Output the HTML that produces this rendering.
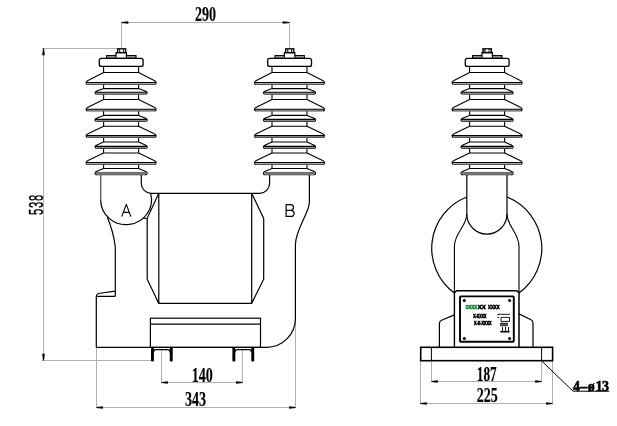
<!DOCTYPE html>
<html><head><meta charset="utf-8"><style>
html,body{margin:0;padding:0;background:#fff;width:617px;height:426px;overflow:hidden}
svg{display:block}
.t{font-family:"Liberation Serif",serif;font-weight:bold;fill:#000}
.s{font-family:"Liberation Sans",sans-serif;fill:#000}
</style></head><body>
<svg width="617" height="426" viewBox="0 0 617 426">


<!-- ============ DIMENSIONS (gray) ============ -->
<g stroke="#b0b0b0" stroke-width="1" fill="none">
  <!-- 290 -->
  <path d="M121.5 22.5H289.5M121.5 22V48.3M289.5 22V48.3"/>
  <!-- 538 -->
  <path d="M43.5 48.5V360.5M42 48.5H117M42 360.5H151"/>
  <!-- 140 -->
  <path d="M161.5 350V383M242.5 350V383M161.5 382.5H242.5"/>
  <!-- 343 -->
  <path d="M96.5 347.4V408M295.5 320V408M96.5 407.5H295.5"/>
  <!-- 187 -->
  <path d="M431.5 361V382M541.5 361V382M431.5 381.5H541.5"/>
  <!-- 225 -->
  <path d="M420.5 361V404.5M552.5 361V404.5M420.5 403.5H552.5"/>
</g>
<!-- arrows -->
<g fill="#000">
  <path d="M121.5 22.00L128.30 21.15V23.85L121.5 23.00Z"/>
  <path d="M289.5 22.00L282.70 21.15V23.85L289.5 23.00Z"/>
  <path d="M43.00 48.5L42.15 55.30H44.85L44.00 48.5Z"/>
  <path d="M43.00 360.5L42.15 353.70H44.85L44.00 360.5Z"/>
  <path d="M161.5 382.00L167.90 381.15V383.85L161.5 383.00Z"/>
  <path d="M242.5 382.00L236.10 381.15V383.85L242.5 383.00Z"/>
  <path d="M96.5 407.00L102.90 406.15V408.85L96.5 408.00Z"/>
  <path d="M295.5 407.00L289.10 406.15V408.85L295.5 408.00Z"/>
  <path d="M431.5 381.00L437.90 380.15V382.85L431.5 382.00Z"/>
  <path d="M541.5 381.00L535.10 380.15V382.85L541.5 382.00Z"/>
  <path d="M420.5 403.00L426.90 402.15V404.85L420.5 404.00Z"/>
  <path d="M552.5 403.00L546.10 402.15V404.85L552.5 404.00Z"/>
</g>

<!-- ============ INSULATORS ============ -->
<g transform="translate(121.1,0)">
  <path d="M-17.5 66.4V174.5M17.5 66.4V174.5" stroke="#000" stroke-width="1.1" fill="none"/>
  <rect x="-14.5" y="55.6" width="29.4" height="2.6" fill="#b0b0b0" stroke="#000" stroke-width="1.1"/>
  <path d="M-5.1 57.6V52.6H5.3V57.6" fill="#fff" stroke="#000" stroke-width="1.2"/>
  <rect x="-21.8" y="58.3" width="43.8" height="8.1" rx="2" fill="#fff" stroke="#000" stroke-width="1.3"/>
  <path d="M-17.5 72.5L-33.6 80.8C-35.7 81.7 -35.3 84.5 -33.4 84.5H33.4C35.3 84.5 35.7 81.7 33.6 80.8L17.5 72.5Z" fill="#fff"/>
  <rect x="-33.6" y="82.5" width="67.2" height="2" fill="#a8a8a8"/>
  <path d="M-17.5 72.5L-33.6 80.8C-35.7 81.7 -35.3 84.5 -33.4 84.5M17.5 72.5L33.6 80.8C35.7 81.7 35.3 84.5 33.4 84.5M-17.5 72.5H17.5M-34.5 82.5H34.5" stroke="#000" stroke-width="1.1" fill="none"/>
  <path d="M-33.4 84.5H33.4" stroke="#555" stroke-width="1.1" fill="none"/>
  <path d="M-17.5 88.6L-24.7 91.2C-26.8 92.1 -26.4 94.2 -24.5 94.2H24.5C26.4 94.2 26.8 92.1 24.7 91.2L17.5 88.6Z" fill="#fff"/>
  <rect x="-24.7" y="92.3" width="49.4" height="1.9" fill="#a0a0a0"/>
  <path d="M-17.5 88.6L-24.7 91.2C-26.8 92.1 -26.4 94.2 -24.5 94.2M17.5 88.6L24.7 91.2C26.8 92.1 26.4 94.2 24.5 94.2M-17.5 88.6H17.5M-25.6 92.3H25.6" stroke="#000" stroke-width="1.1" fill="none"/>
  <path d="M-24.5 94.2H24.5" stroke="#444" stroke-width="1.1" fill="none"/>
  <path d="M-17.5 99.5L-33.6 107.6C-35.7 108.5 -35.3 111 -33.4 111H33.4C35.3 111 35.7 108.5 33.6 107.6L17.5 99.5Z" fill="#fff"/>
  <rect x="-33.6" y="109.3" width="67.2" height="1.7" fill="#a8a8a8"/>
  <path d="M-17.5 99.5L-33.6 107.6C-35.7 108.5 -35.3 111 -33.4 111M17.5 99.5L33.6 107.6C35.7 108.5 35.3 111 33.4 111M-17.5 99.5H17.5M-34.5 109.3H34.5" stroke="#000" stroke-width="1.1" fill="none"/>
  <path d="M-33.4 111H33.4" stroke="#555" stroke-width="1.1" fill="none"/>
  <path d="M-17.5 115.4L-24.7 118.3C-26.8 119.2 -26.4 121.4 -24.5 121.4H24.5C26.4 121.4 26.8 119.2 24.7 118.3L17.5 115.4Z" fill="#fff"/>
  <rect x="-24.7" y="119.4" width="49.4" height="2" fill="#a0a0a0"/>
  <path d="M-17.5 115.4L-24.7 118.3C-26.8 119.2 -26.4 121.4 -24.5 121.4M17.5 115.4L24.7 118.3C26.8 119.2 26.4 121.4 24.5 121.4M-17.5 115.4H17.5M-25.6 119.4H25.6" stroke="#000" stroke-width="1.1" fill="none"/>
  <path d="M-24.5 121.4H24.5" stroke="#444" stroke-width="1.1" fill="none"/>
  <path d="M-17.5 126.3L-33.6 133.9C-35.7 134.8 -35.3 137.5 -33.4 137.5H33.4C35.3 137.5 35.7 134.8 33.6 133.9L17.5 126.3Z" fill="#fff"/>
  <rect x="-33.6" y="135.6" width="67.2" height="1.9" fill="#a8a8a8"/>
  <path d="M-17.5 126.3L-33.6 133.9C-35.7 134.8 -35.3 137.5 -33.4 137.5M17.5 126.3L33.6 133.9C35.7 134.8 35.3 137.5 33.4 137.5M-17.5 126.3H17.5M-34.5 135.6H34.5" stroke="#000" stroke-width="1.1" fill="none"/>
  <path d="M-33.4 137.5H33.4" stroke="#555" stroke-width="1.1" fill="none"/>
  <path d="M-17.5 142L-24.7 145.3C-26.8 146.2 -26.4 148.4 -24.5 148.4H24.5C26.4 148.4 26.8 146.2 24.7 145.3L17.5 142Z" fill="#fff"/>
  <rect x="-24.7" y="146.4" width="49.4" height="2" fill="#a0a0a0"/>
  <path d="M-17.5 142L-24.7 145.3C-26.8 146.2 -26.4 148.4 -24.5 148.4M17.5 142L24.7 145.3C26.8 146.2 26.4 148.4 24.5 148.4M-17.5 142H17.5M-25.6 146.4H25.6" stroke="#000" stroke-width="1.1" fill="none"/>
  <path d="M-24.5 148.4H24.5" stroke="#444" stroke-width="1.1" fill="none"/>
  <path d="M-17.5 153L-33.6 160.8C-35.7 161.7 -35.3 164.5 -33.4 164.5H33.4C35.3 164.5 35.7 161.7 33.6 160.8L17.5 153Z" fill="#fff"/>
  <rect x="-33.6" y="162.5" width="67.2" height="2" fill="#a8a8a8"/>
  <path d="M-17.5 153L-33.6 160.8C-35.7 161.7 -35.3 164.5 -33.4 164.5M17.5 153L33.6 160.8C35.7 161.7 35.3 164.5 33.4 164.5M-17.5 153H17.5M-34.5 162.5H34.5" stroke="#000" stroke-width="1.1" fill="none"/>
  <path d="M-33.4 164.5H33.4" stroke="#555" stroke-width="1.1" fill="none"/>
  <path d="M-17.5 168.5L-24.7 171.4C-26.8 172.3 -26.4 174.8 -24.5 174.8H24.5C26.4 174.8 26.8 172.3 24.7 171.4L17.5 168.5Z" fill="#fff"/>
  <rect x="-25" y="171.9" width="50" height="3.5" fill="#727272"/>
  <path d="M-17.5 168.5L-24.7 171.4C-26.8 172.3 -26.4 174.8 -24.5 174.8M17.5 168.5L24.7 171.4C26.8 172.3 26.4 174.8 24.5 174.8M-17.5 168.5H17.5" stroke="#000" stroke-width="1.1" fill="none"/>
</g>
<g transform="translate(289.5,0)">
  <path d="M-17.5 66.4V174.5M17.5 66.4V174.5" stroke="#000" stroke-width="1.1" fill="none"/>
  <rect x="-14.5" y="55.6" width="29.4" height="2.6" fill="#b0b0b0" stroke="#000" stroke-width="1.1"/>
  <path d="M-5.1 57.6V52.6H5.3V57.6" fill="#fff" stroke="#000" stroke-width="1.2"/>
  <rect x="-21.8" y="58.3" width="43.8" height="8.1" rx="2" fill="#fff" stroke="#000" stroke-width="1.3"/>
  <path d="M-17.5 72.5L-33.6 80.8C-35.7 81.7 -35.3 84.5 -33.4 84.5H33.4C35.3 84.5 35.7 81.7 33.6 80.8L17.5 72.5Z" fill="#fff"/>
  <rect x="-33.6" y="82.5" width="67.2" height="2" fill="#a8a8a8"/>
  <path d="M-17.5 72.5L-33.6 80.8C-35.7 81.7 -35.3 84.5 -33.4 84.5M17.5 72.5L33.6 80.8C35.7 81.7 35.3 84.5 33.4 84.5M-17.5 72.5H17.5M-34.5 82.5H34.5" stroke="#000" stroke-width="1.1" fill="none"/>
  <path d="M-33.4 84.5H33.4" stroke="#555" stroke-width="1.1" fill="none"/>
  <path d="M-17.5 88.6L-24.7 91.2C-26.8 92.1 -26.4 94.2 -24.5 94.2H24.5C26.4 94.2 26.8 92.1 24.7 91.2L17.5 88.6Z" fill="#fff"/>
  <rect x="-24.7" y="92.3" width="49.4" height="1.9" fill="#a0a0a0"/>
  <path d="M-17.5 88.6L-24.7 91.2C-26.8 92.1 -26.4 94.2 -24.5 94.2M17.5 88.6L24.7 91.2C26.8 92.1 26.4 94.2 24.5 94.2M-17.5 88.6H17.5M-25.6 92.3H25.6" stroke="#000" stroke-width="1.1" fill="none"/>
  <path d="M-24.5 94.2H24.5" stroke="#444" stroke-width="1.1" fill="none"/>
  <path d="M-17.5 99.5L-33.6 107.6C-35.7 108.5 -35.3 111 -33.4 111H33.4C35.3 111 35.7 108.5 33.6 107.6L17.5 99.5Z" fill="#fff"/>
  <rect x="-33.6" y="109.3" width="67.2" height="1.7" fill="#a8a8a8"/>
  <path d="M-17.5 99.5L-33.6 107.6C-35.7 108.5 -35.3 111 -33.4 111M17.5 99.5L33.6 107.6C35.7 108.5 35.3 111 33.4 111M-17.5 99.5H17.5M-34.5 109.3H34.5" stroke="#000" stroke-width="1.1" fill="none"/>
  <path d="M-33.4 111H33.4" stroke="#555" stroke-width="1.1" fill="none"/>
  <path d="M-17.5 115.4L-24.7 118.3C-26.8 119.2 -26.4 121.4 -24.5 121.4H24.5C26.4 121.4 26.8 119.2 24.7 118.3L17.5 115.4Z" fill="#fff"/>
  <rect x="-24.7" y="119.4" width="49.4" height="2" fill="#a0a0a0"/>
  <path d="M-17.5 115.4L-24.7 118.3C-26.8 119.2 -26.4 121.4 -24.5 121.4M17.5 115.4L24.7 118.3C26.8 119.2 26.4 121.4 24.5 121.4M-17.5 115.4H17.5M-25.6 119.4H25.6" stroke="#000" stroke-width="1.1" fill="none"/>
  <path d="M-24.5 121.4H24.5" stroke="#444" stroke-width="1.1" fill="none"/>
  <path d="M-17.5 126.3L-33.6 133.9C-35.7 134.8 -35.3 137.5 -33.4 137.5H33.4C35.3 137.5 35.7 134.8 33.6 133.9L17.5 126.3Z" fill="#fff"/>
  <rect x="-33.6" y="135.6" width="67.2" height="1.9" fill="#a8a8a8"/>
  <path d="M-17.5 126.3L-33.6 133.9C-35.7 134.8 -35.3 137.5 -33.4 137.5M17.5 126.3L33.6 133.9C35.7 134.8 35.3 137.5 33.4 137.5M-17.5 126.3H17.5M-34.5 135.6H34.5" stroke="#000" stroke-width="1.1" fill="none"/>
  <path d="M-33.4 137.5H33.4" stroke="#555" stroke-width="1.1" fill="none"/>
  <path d="M-17.5 142L-24.7 145.3C-26.8 146.2 -26.4 148.4 -24.5 148.4H24.5C26.4 148.4 26.8 146.2 24.7 145.3L17.5 142Z" fill="#fff"/>
  <rect x="-24.7" y="146.4" width="49.4" height="2" fill="#a0a0a0"/>
  <path d="M-17.5 142L-24.7 145.3C-26.8 146.2 -26.4 148.4 -24.5 148.4M17.5 142L24.7 145.3C26.8 146.2 26.4 148.4 24.5 148.4M-17.5 142H17.5M-25.6 146.4H25.6" stroke="#000" stroke-width="1.1" fill="none"/>
  <path d="M-24.5 148.4H24.5" stroke="#444" stroke-width="1.1" fill="none"/>
  <path d="M-17.5 153L-33.6 160.8C-35.7 161.7 -35.3 164.5 -33.4 164.5H33.4C35.3 164.5 35.7 161.7 33.6 160.8L17.5 153Z" fill="#fff"/>
  <rect x="-33.6" y="162.5" width="67.2" height="2" fill="#a8a8a8"/>
  <path d="M-17.5 153L-33.6 160.8C-35.7 161.7 -35.3 164.5 -33.4 164.5M17.5 153L33.6 160.8C35.7 161.7 35.3 164.5 33.4 164.5M-17.5 153H17.5M-34.5 162.5H34.5" stroke="#000" stroke-width="1.1" fill="none"/>
  <path d="M-33.4 164.5H33.4" stroke="#555" stroke-width="1.1" fill="none"/>
  <path d="M-17.5 168.5L-24.7 171.4C-26.8 172.3 -26.4 174.8 -24.5 174.8H24.5C26.4 174.8 26.8 172.3 24.7 171.4L17.5 168.5Z" fill="#fff"/>
  <rect x="-25" y="171.9" width="50" height="3.5" fill="#727272"/>
  <path d="M-17.5 168.5L-24.7 171.4C-26.8 172.3 -26.4 174.8 -24.5 174.8M17.5 168.5L24.7 171.4C26.8 172.3 26.4 174.8 24.5 174.8M-17.5 168.5H17.5" stroke="#000" stroke-width="1.1" fill="none"/>
</g>
<g transform="translate(487.1,0)">
  <path d="M-17.5 66.4V174.5M17.5 66.4V174.5" stroke="#000" stroke-width="1.1" fill="none"/>
  <rect x="-14.5" y="55.6" width="29.4" height="2.6" fill="#b0b0b0" stroke="#000" stroke-width="1.1"/>
  <path d="M-5.1 57.6V52.6H5.3V57.6" fill="#fff" stroke="#000" stroke-width="1.2"/>
  <rect x="-21.8" y="58.3" width="43.8" height="8.1" rx="2" fill="#fff" stroke="#000" stroke-width="1.3"/>
  <path d="M-17.5 72.5L-33.6 80.8C-35.7 81.7 -35.3 84.5 -33.4 84.5H33.4C35.3 84.5 35.7 81.7 33.6 80.8L17.5 72.5Z" fill="#fff"/>
  <rect x="-33.6" y="82.5" width="67.2" height="2" fill="#a8a8a8"/>
  <path d="M-17.5 72.5L-33.6 80.8C-35.7 81.7 -35.3 84.5 -33.4 84.5M17.5 72.5L33.6 80.8C35.7 81.7 35.3 84.5 33.4 84.5M-17.5 72.5H17.5M-34.5 82.5H34.5" stroke="#000" stroke-width="1.1" fill="none"/>
  <path d="M-33.4 84.5H33.4" stroke="#555" stroke-width="1.1" fill="none"/>
  <path d="M-17.5 88.6L-24.7 91.2C-26.8 92.1 -26.4 94.2 -24.5 94.2H24.5C26.4 94.2 26.8 92.1 24.7 91.2L17.5 88.6Z" fill="#fff"/>
  <rect x="-24.7" y="92.3" width="49.4" height="1.9" fill="#a0a0a0"/>
  <path d="M-17.5 88.6L-24.7 91.2C-26.8 92.1 -26.4 94.2 -24.5 94.2M17.5 88.6L24.7 91.2C26.8 92.1 26.4 94.2 24.5 94.2M-17.5 88.6H17.5M-25.6 92.3H25.6" stroke="#000" stroke-width="1.1" fill="none"/>
  <path d="M-24.5 94.2H24.5" stroke="#444" stroke-width="1.1" fill="none"/>
  <path d="M-17.5 99.5L-33.6 107.6C-35.7 108.5 -35.3 111 -33.4 111H33.4C35.3 111 35.7 108.5 33.6 107.6L17.5 99.5Z" fill="#fff"/>
  <rect x="-33.6" y="109.3" width="67.2" height="1.7" fill="#a8a8a8"/>
  <path d="M-17.5 99.5L-33.6 107.6C-35.7 108.5 -35.3 111 -33.4 111M17.5 99.5L33.6 107.6C35.7 108.5 35.3 111 33.4 111M-17.5 99.5H17.5M-34.5 109.3H34.5" stroke="#000" stroke-width="1.1" fill="none"/>
  <path d="M-33.4 111H33.4" stroke="#555" stroke-width="1.1" fill="none"/>
  <path d="M-17.5 115.4L-24.7 118.3C-26.8 119.2 -26.4 121.4 -24.5 121.4H24.5C26.4 121.4 26.8 119.2 24.7 118.3L17.5 115.4Z" fill="#fff"/>
  <rect x="-24.7" y="119.4" width="49.4" height="2" fill="#a0a0a0"/>
  <path d="M-17.5 115.4L-24.7 118.3C-26.8 119.2 -26.4 121.4 -24.5 121.4M17.5 115.4L24.7 118.3C26.8 119.2 26.4 121.4 24.5 121.4M-17.5 115.4H17.5M-25.6 119.4H25.6" stroke="#000" stroke-width="1.1" fill="none"/>
  <path d="M-24.5 121.4H24.5" stroke="#444" stroke-width="1.1" fill="none"/>
  <path d="M-17.5 126.3L-33.6 133.9C-35.7 134.8 -35.3 137.5 -33.4 137.5H33.4C35.3 137.5 35.7 134.8 33.6 133.9L17.5 126.3Z" fill="#fff"/>
  <rect x="-33.6" y="135.6" width="67.2" height="1.9" fill="#a8a8a8"/>
  <path d="M-17.5 126.3L-33.6 133.9C-35.7 134.8 -35.3 137.5 -33.4 137.5M17.5 126.3L33.6 133.9C35.7 134.8 35.3 137.5 33.4 137.5M-17.5 126.3H17.5M-34.5 135.6H34.5" stroke="#000" stroke-width="1.1" fill="none"/>
  <path d="M-33.4 137.5H33.4" stroke="#555" stroke-width="1.1" fill="none"/>
  <path d="M-17.5 142L-24.7 145.3C-26.8 146.2 -26.4 148.4 -24.5 148.4H24.5C26.4 148.4 26.8 146.2 24.7 145.3L17.5 142Z" fill="#fff"/>
  <rect x="-24.7" y="146.4" width="49.4" height="2" fill="#a0a0a0"/>
  <path d="M-17.5 142L-24.7 145.3C-26.8 146.2 -26.4 148.4 -24.5 148.4M17.5 142L24.7 145.3C26.8 146.2 26.4 148.4 24.5 148.4M-17.5 142H17.5M-25.6 146.4H25.6" stroke="#000" stroke-width="1.1" fill="none"/>
  <path d="M-24.5 148.4H24.5" stroke="#444" stroke-width="1.1" fill="none"/>
  <path d="M-17.5 153L-33.6 160.8C-35.7 161.7 -35.3 164.5 -33.4 164.5H33.4C35.3 164.5 35.7 161.7 33.6 160.8L17.5 153Z" fill="#fff"/>
  <rect x="-33.6" y="162.5" width="67.2" height="2" fill="#a8a8a8"/>
  <path d="M-17.5 153L-33.6 160.8C-35.7 161.7 -35.3 164.5 -33.4 164.5M17.5 153L33.6 160.8C35.7 161.7 35.3 164.5 33.4 164.5M-17.5 153H17.5M-34.5 162.5H34.5" stroke="#000" stroke-width="1.1" fill="none"/>
  <path d="M-33.4 164.5H33.4" stroke="#555" stroke-width="1.1" fill="none"/>
  <path d="M-17.5 168.5L-24.7 171.4C-26.8 172.3 -26.4 174.8 -24.5 174.8H24.5C26.4 174.8 26.8 172.3 24.7 171.4L17.5 168.5Z" fill="#fff"/>
  <rect x="-25" y="171.9" width="50" height="3.5" fill="#727272"/>
  <path d="M-17.5 168.5L-24.7 171.4C-26.8 172.3 -26.4 174.8 -24.5 174.8M17.5 168.5L24.7 171.4C26.8 172.3 26.4 174.8 24.5 174.8M-17.5 168.5H17.5" stroke="#000" stroke-width="1.1" fill="none"/>
</g>
<g stroke="#000" stroke-width="1.3" fill="#fff">
  <rect x="117.6" y="48.8" width="8.1" height="3.8"/>
  <rect x="285.7" y="48.8" width="8.1" height="3.8"/>
  <rect x="482.9" y="48.8" width="8.5" height="3.8" fill="#6a6a6a"/>
</g>
<path d="M119.7 48.8V52.6M123.6 48.8V52.6M287.8 48.8V52.6M291.7 48.8V52.6" stroke="#000" stroke-width="1"/>
<ellipse cx="487.2" cy="50.6" rx="1.3" ry="1.4" fill="#fff"/>
<path d="M490 49.6V51.8" stroke="#ddd" stroke-width="0.8"/>

<!-- ============ FRONT BODY ============ -->
<g stroke="#000" stroke-width="1.2" fill="none">
  <path d="M100.7 175V200" stroke="#555" stroke-width="1.3"/>
  <path d="M100.7 200A25.4 24.8 0 1 0 150.6 193.3"/>
  <path d="M143.4 218.3H147.2" stroke-width="1"/>
  <path d="M107.4 217.2Q113.5 232 115.3 247V296.3"/>
  <path d="M115.3 291.1L98.4 293.5Q96.3 294 96.3 296.3V347.4M96.3 296.3H115.3"/>
  <path d="M141.3 175V183.5A9.8 9.8 0 0 0 151.1 193.3H259.8A9.8 9.8 0 0 0 269.6 183.5V175"/>
  <path d="M309.4 175V202.2C309.4 213 295.4 229 295.4 245V318.5A28.9 28.9 0 0 1 266.5 347.4H96.3"/>
  <path d="M158.8 193.3L147.2 218.3V279.2L158.7 303.3H251.7L263.7 279.2V218.4L251.7 193.3M158.8 193.3V303.3M251.7 193.3V303.3"/>
  <rect x="150.4" y="318.2" width="110.1" height="29.2"/>
  <path d="M150.4 324.2H260.5"/>
</g>
<!-- feet -->
<g fill="#000">
  <rect x="151" y="347.6" width="2.9" height="14" rx="1"/>
  <rect x="169.8" y="347.6" width="2.9" height="14" rx="1"/>
  <rect x="232.4" y="347.6" width="2.9" height="14" rx="1"/>
  <rect x="251.3" y="347.6" width="2.9" height="14" rx="1"/>
</g>
<g stroke="#000" stroke-width="1.4" fill="none">
  <path d="M153.4 352.5Q153.4 349.6 156 349.6H167.6Q170.2 349.6 170.2 352.5"/>
  <path d="M234.8 352.5Q234.8 349.6 237.4 349.6H249.1Q251.7 349.6 251.7 352.5"/>
</g>
<path d="M121.7 216.6L126.3 204.4L130.9 216.6M123.3 212.3H129.3" stroke="#000" stroke-width="1.15" fill="none" stroke-linejoin="round"/>
<path d="M286.1 204.6V216.4H290.6C293.2 216.4 294.1 215 294.1 213.4C294.1 211.6 293 210.3 290.6 210.3H286.1M290.4 210.3C292.6 210.3 293.5 209 293.5 207.4C293.5 205.7 292.5 204.6 290.4 204.6H286.1" stroke="#000" stroke-width="1.2" fill="none"/>

<!-- ============ SIDE BODY ============ -->
<g stroke="#000" stroke-width="1.2" fill="none">
  <path d="M466.8 175V214A20.1 20.1 0 0 0 507 214V175"/>
  <path d="M466.8 197A55.2 55.2 0 0 0 454.4 293"/>
  <path d="M507 197A55.2 55.2 0 0 1 519 293"/>
  <path d="M466.8 214C466.8 226.5 454.4 232.5 454.4 246.5V290.8" stroke-width="1.1"/>
  <path d="M454.4 290.8V347.2" stroke-width="1.4"/>
  <path d="M507 214C507 226.5 519 232.5 519 246.5V290.8" stroke-width="1.1"/>
  <path d="M519 290.8V347.2" stroke-width="1.5"/>
  <path d="M454.4 292.8L456.6 290.8H516.8L519 292.8" stroke-width="1.4"/>
  <path d="M454.4 314.9L441.6 320.3Q439.4 321.3 439.4 323.5V347.2"/>
  <path d="M519 313.9L531 319.8Q533 320.8 533 323V347.2"/>
  <rect x="420.7" y="347.3" width="131.9" height="13.4" stroke-width="1.6"/>
  <path d="M431.4 347.2V360.8M541.6 347.2V360.8" stroke-width="1"/>
  <path d="M541.7 361L573.1 391.2H609.3" stroke-width="1"/>
</g>
<rect x="460" y="296.4" width="53.8" height="45.3" rx="0.8" fill="none" stroke="#000" stroke-width="1.9"/>
<g fill="#000">
  <circle cx="464.3" cy="300.4" r="1.5"/><circle cx="509.6" cy="300.4" r="1.5"/>
  <circle cx="464.3" cy="338.4" r="1.5"/><circle cx="509.6" cy="338.4" r="1.5"/>
</g>
<!-- nameplate text blobs -->
<g font-family="Liberation Sans, sans-serif" font-weight="bold" font-size="5.6" stroke-width="0.6">
  <text x="465.8" y="308.9" fill="#0d8a35" stroke="#0d8a35" textLength="11.1" lengthAdjust="spacingAndGlyphs">DXXX</text>
  <g style="filter:grayscale(1)" fill="#000" stroke="#000">
  <text x="477.8" y="308.9" textLength="8" lengthAdjust="spacingAndGlyphs">XX</text>
  <text x="488" y="308.9" textLength="11.7" lengthAdjust="spacingAndGlyphs">XXXX</text>
  <text x="473.2" y="317.8" font-size="4.6" textLength="13.1" lengthAdjust="spacingAndGlyphs">X-XXXX</text>
  <text x="474.1" y="324.5" font-size="4.8" textLength="17.5" lengthAdjust="spacingAndGlyphs">X-X-XXXX</text>
  <text x="500" y="326.3" font-size="3" stroke-width="0.3" textLength="8" lengthAdjust="spacingAndGlyphs">XXXX</text>
  </g>
</g>
<g stroke="#000" stroke-width="0.9" fill="none">
  <path d="M498.3 314.3H509.9M501 317.4H509.5V321.4H501ZM502.5 327V331M505.5 327V331M508.5 327V331"/>
</g>
<path d="M497.6 313.6l1.8 0.9l-1.8 0.9zM497.6 316.6l1.8 0.9l-1.8 0.9z" fill="#000"/>
<rect x="500.3" y="330.9" width="9.2" height="1.6" fill="#000"/>

<!-- ============ TEXT ============ -->
<g class="t" font-size="20.7" style="filter:grayscale(1)" stroke="#000" stroke-width="0.15">
  <text x="205.6" y="21.1" text-anchor="middle" transform="translate(205.6,0) scale(0.68,1) translate(-205.6,0)">290</text>
  <text x="202.2" y="381.9" text-anchor="middle" transform="translate(202.2,0) scale(0.68,1) translate(-202.2,0)">140</text>
  <text x="195.6" y="406.2" text-anchor="middle" transform="translate(195.6,0) scale(0.68,1) translate(-195.6,0)">343</text>
  <text x="486.7" y="380.7" text-anchor="middle" transform="translate(486.7,0) scale(0.64,1) translate(-486.7,0)">187</text>
  <text x="487.2" y="402.2" text-anchor="middle" transform="translate(487.2,0) scale(0.68,1) translate(-487.2,0)">225</text>
</g>
<text x="0" y="0" font-family="Liberation Sans, sans-serif" font-size="20.5" letter-spacing="1.2" stroke="#000" stroke-width="0.35" text-anchor="middle" style="filter:grayscale(1)" transform="translate(43.4,204.5) rotate(-90) scale(0.55,1)">538</text>
<text class="t" y="390.6" font-size="14" style="filter:grayscale(1)" stroke="#000" stroke-width="0.6"><tspan x="573">4</tspan><tspan x="580.2">–</tspan><tspan x="587.8">ø</tspan><tspan x="595.6">1</tspan><tspan x="602.1">3</tspan></text>
</svg>
</body></html>
